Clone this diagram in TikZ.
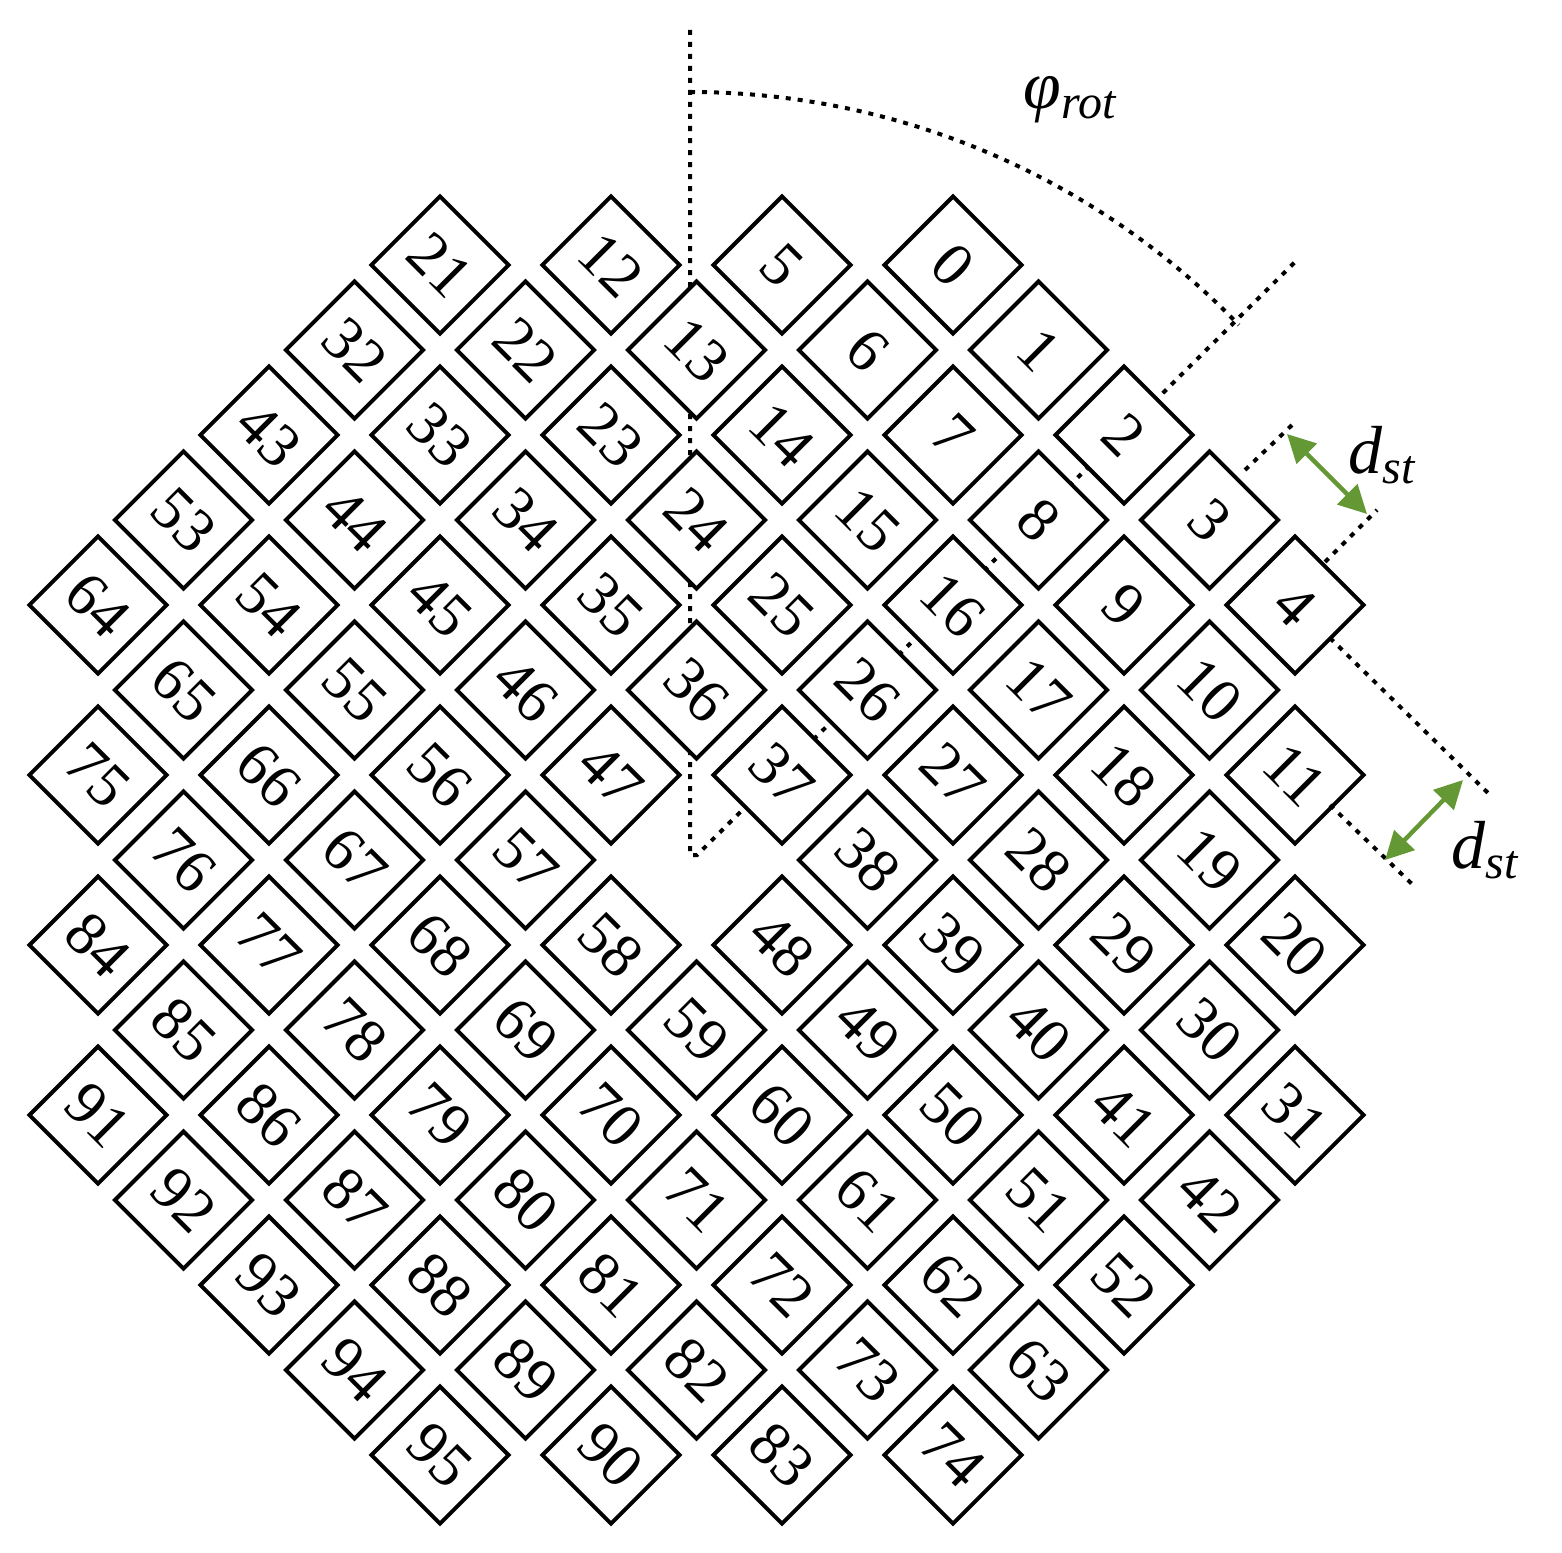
\documentclass[tikz,border=0pt]{standalone}
\usepackage{fontspec}
\setmainfont{Liberation Serif}
\newfontfamily\cellfont{Liberation Serif}
\usetikzlibrary{arrows.meta}
\definecolor{grn}{RGB}{100,152,52}
\begin{document}
\begin{tikzpicture}[x=0.5pt,y=-0.5pt,
  cell/.style={draw,fill=white,line width=2pt,shape=rectangle,minimum size=48.5pt,inner sep=0pt,rotate=-45,font=\cellfont\fontsize{31}{31}\selectfont},
  dots/.style={line width=2pt,dash pattern=on 2.5pt off 3.5pt},
  lab/.style={font=\cellfont\fontsize{34}{34}\selectfont},
  garrow/.style={grn,line width=2.2pt,{Triangle[length=14pt,width=14pt]}-{Triangle[length=14pt,width=14pt]}}]
\useasboundingbox (0,0) rectangle (1562,1552);
\coordinate (top) at (690,30);
\coordinate (ctr) at (690,855);
\coordinate (ctr2) at (697,855);
\coordinate (rayend) at (1295,262);
\coordinate (arcs) at (690,92);
\draw[dots] (top) -- (ctr) -- (ctr2) -- (rayend);
\draw[dots] (arcs) arc[start angle=270,end angle=316,radius=763];
% cells
\foreach \j/\imin/\imax/\s in {0/0/4/0,1/-1/5/5,2/-2/6/12,3/-3/7/21,4/-3/7/32,5/-3/1/43,5/3/7/48,6/-3/7/53,7/-3/7/64,8/-2/6/75,9/-1/5/84,10/0/4/91}{
  \foreach \i in {\imin,...,\imax}{
    \pgfmathtruncatemacro\k{\s+\i-\imin}
    \node[cell] (n\k) at ({953+85.5*(\i-\j)},{265+85*(\i+\j)}) {\k};
  }
}
% d_st marks
\coordinate (a1) at (1245,470); \coordinate (a2) at (1292,425);
\coordinate (b1) at (1325,562); \coordinate (b2) at (1377,510);
\coordinate (c1) at (1330,638); \coordinate (c2) at (1490,795);
\coordinate (d1) at (1330,805); \coordinate (d2) at (1413,885);
\draw[dots] (a1) -- (a2);
\draw[dots] (b1) -- (b2);
\draw[dots] (c1) -- (c2);
\draw[dots] (d1) -- (d2);
\coordinate (g1) at (1287,434); \coordinate (g2) at (1367,514);
\coordinate (h1) at (1463,780); \coordinate (h2) at (1385,860);
\draw[garrow] (g1) -- (g2);
\draw[garrow] (h1) -- (h2);
\node[lab] (l1) at (1382,455) {\textit{d}\raisebox{-5pt}{\fontsize{24}{24}\selectfont\textit{st}}};
\node[lab] (l2) at (1485,850) {\textit{d}\raisebox{-5pt}{\fontsize{24}{24}\selectfont\textit{st}}};
\node[lab] (l3) at (1070,100) {\textit{φ}\raisebox{-5pt}{\fontsize{24}{24}\selectfont\textit{rot}}};
\end{tikzpicture}
\end{document}
